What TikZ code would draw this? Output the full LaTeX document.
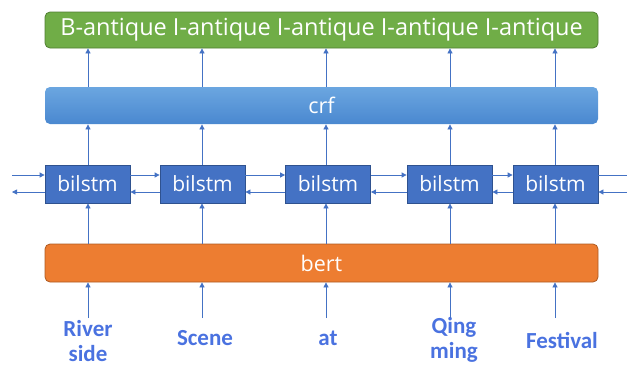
\documentclass[tikz,border=0pt]{standalone}
\usepackage{fontspec}
\setmainfont{Open Sans}
\newfontfamily\wordfont{Carlito}
\usetikzlibrary{arrows.meta}
\definecolor{arrowc}{HTML}{4472C4}
\definecolor{lstmfill}{HTML}{4472C4}
\definecolor{lstmdraw}{HTML}{2F528F}
\definecolor{greenfill}{HTML}{70AD47}
\definecolor{greendraw}{HTML}{507E32}
\definecolor{bertfill}{HTML}{ED7D31}
\definecolor{bertdraw}{HTML}{AE5A21}
\definecolor{crftop}{HTML}{6BA6E0}
\definecolor{crfbot}{HTML}{4A88D0}
\definecolor{wordc}{HTML}{4A72E0}
\tikzset{
  conn/.style={draw=arrowc, line width=0.8pt, -{Triangle[width=5pt,length=5pt]}},
  plain/.style={draw=arrowc, line width=0.8pt},
  lstm/.style={draw=lstmdraw, fill=lstmfill, line width=0.8pt, minimum width=85pt, minimum height=38pt, inner sep=0pt, text=white, font=\fontsize{21}{23}\selectfont},
  wide/.style={minimum width=553pt, inner sep=0pt, rounded corners=5pt, text=white, line width=0.8pt},
  word/.style={text=wordc, font=\wordfont\bfseries\fontsize{23}{25}\selectfont, align=center, inner sep=0pt}
}
\begin{document}
\begin{tikzpicture}[x=1pt,y=-1pt]
\useasboundingbox (0,0) rectangle (627,368);
\node[wide, draw=greendraw, fill=greenfill, minimum height=36pt, font=\fontsize{23.5}{25}\selectfont] (out) at (321.5,30) {B-antique I-antique I-antique I-antique I-antique};
\node[wide, top color=crftop, bottom color=crfbot, draw=none, minimum height=37pt, font=\fontsize{21.5}{23}\selectfont] (crf) at (321.5,105.5) {crf};
\node[wide, draw=bertdraw, fill=bertfill, minimum height=38pt, font=\fontsize{21.5}{23}\selectfont] (bert) at (321.5,263) {bert};
\node[lstm] (l1) at (87.5,184) {bilstm};
\node[lstm] (l2) at (202.5,184) {bilstm};
\node[lstm] (l3) at (328,184) {bilstm};
\node[lstm] (l4) at (449.5,184) {bilstm};
\node[lstm] (l5) at (555.5,184) {bilstm};
\node[word] (w1) at (88,341) {River\\side};
\node[word] (w2) at (205,338) {Scene};
\node[word] (w3) at (328,338) {at};
\node[word] (w4) at (454,340) {Qing\\ming};
\node[word] (w5) at (562,340) {Festival};
\foreach \i/\x in {1/88,2/202,3/326,4/450,5/555}{
  \coordinate (wb\i) at (\x,318);
  \draw[conn] (wb\i) -- (bert.south -| wb\i);
  \draw[conn] (bert.north -| wb\i) -- (l\i.south -| wb\i);
  \draw[conn] (l\i.north -| wb\i) -- (crf.south -| wb\i);
  \draw[conn] (crf.north -| wb\i) -- (out.south -| wb\i);
}
\foreach \a/\b in {1/2,2/3,3/4,4/5}{
  \draw[conn] ([yshift=9pt]l\a.east) -- ([yshift=9pt]l\b.west);
  \draw[conn] ([yshift=-8pt]l\b.west) -- ([yshift=-8pt]l\a.east);
}
\coordinate (lin) at (12,175);
\coordinate (lout) at (12,192);
\coordinate (rout) at (627,175);
\coordinate (rin) at (627,192);
\draw[conn] (lin) -- (lin -| l1.west);
\draw[conn] (lout -| l1.west) -- (lout);
\draw[plain] (rout -| l5.east) -- (rout);
\draw[conn] (rin) -- (rin -| l5.east);
\end{tikzpicture}
\end{document}
